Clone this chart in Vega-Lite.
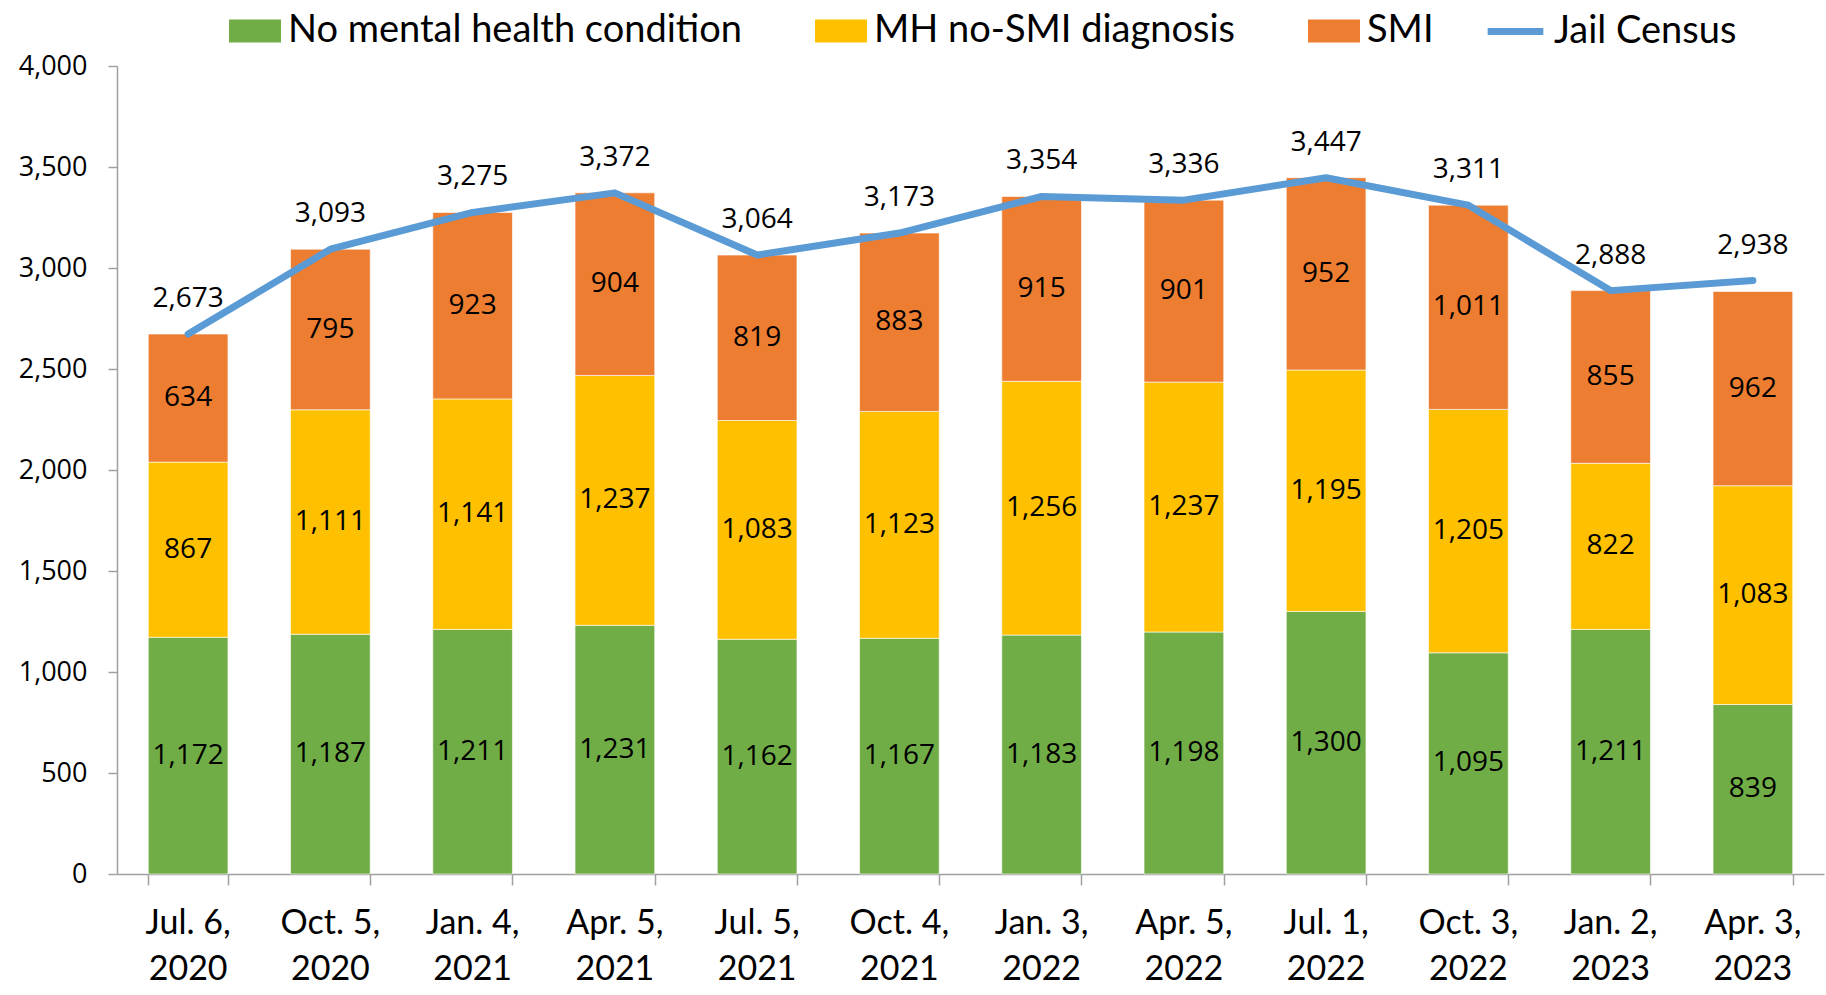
{
  "$schema": "https://vega.github.io/schema/vega-lite/v6.json",
  "autosize": {"type": "none"},
  "padding": {"left": 117, "top": 66, "right": 2, "bottom": 121},
  "width": 1707,
  "height": 808,
  "config": {
    "view": {"stroke": null},
    "axis": {"domainColor": "#A0A0A0", "tickColor": "#A0A0A0", "domainWidth": 1.5, "tickWidth": 1.5, "grid": false, "labelColor": "#000000"}
  },
  "data": {"values": [
    {"d": "Jul. 6,|2020", "cat": "No mental health condition", "v": 1172},
    {"d": "Oct. 5,|2020", "cat": "No mental health condition", "v": 1187},
    {"d": "Jan. 4,|2021", "cat": "No mental health condition", "v": 1211},
    {"d": "Apr. 5,|2021", "cat": "No mental health condition", "v": 1231},
    {"d": "Jul. 5,|2021", "cat": "No mental health condition", "v": 1162},
    {"d": "Oct. 4,|2021", "cat": "No mental health condition", "v": 1167},
    {"d": "Jan. 3,|2022", "cat": "No mental health condition", "v": 1183},
    {"d": "Apr. 5,|2022", "cat": "No mental health condition", "v": 1198},
    {"d": "Jul. 1,|2022", "cat": "No mental health condition", "v": 1300},
    {"d": "Oct. 3,|2022", "cat": "No mental health condition", "v": 1095},
    {"d": "Jan. 2,|2023", "cat": "No mental health condition", "v": 1211},
    {"d": "Apr. 3,|2023", "cat": "No mental health condition", "v": 839},
    {"d": "Jul. 6,|2020", "cat": "MH no-SMI diagnosis", "v": 867},
    {"d": "Oct. 5,|2020", "cat": "MH no-SMI diagnosis", "v": 1111},
    {"d": "Jan. 4,|2021", "cat": "MH no-SMI diagnosis", "v": 1141},
    {"d": "Apr. 5,|2021", "cat": "MH no-SMI diagnosis", "v": 1237},
    {"d": "Jul. 5,|2021", "cat": "MH no-SMI diagnosis", "v": 1083},
    {"d": "Oct. 4,|2021", "cat": "MH no-SMI diagnosis", "v": 1123},
    {"d": "Jan. 3,|2022", "cat": "MH no-SMI diagnosis", "v": 1256},
    {"d": "Apr. 5,|2022", "cat": "MH no-SMI diagnosis", "v": 1237},
    {"d": "Jul. 1,|2022", "cat": "MH no-SMI diagnosis", "v": 1195},
    {"d": "Oct. 3,|2022", "cat": "MH no-SMI diagnosis", "v": 1205},
    {"d": "Jan. 2,|2023", "cat": "MH no-SMI diagnosis", "v": 822},
    {"d": "Apr. 3,|2023", "cat": "MH no-SMI diagnosis", "v": 1083},
    {"d": "Jul. 6,|2020", "cat": "SMI", "v": 634},
    {"d": "Oct. 5,|2020", "cat": "SMI", "v": 795},
    {"d": "Jan. 4,|2021", "cat": "SMI", "v": 923},
    {"d": "Apr. 5,|2021", "cat": "SMI", "v": 904},
    {"d": "Jul. 5,|2021", "cat": "SMI", "v": 819},
    {"d": "Oct. 4,|2021", "cat": "SMI", "v": 883},
    {"d": "Jan. 3,|2022", "cat": "SMI", "v": 915},
    {"d": "Apr. 5,|2022", "cat": "SMI", "v": 901},
    {"d": "Jul. 1,|2022", "cat": "SMI", "v": 952},
    {"d": "Oct. 3,|2022", "cat": "SMI", "v": 1011},
    {"d": "Jan. 2,|2023", "cat": "SMI", "v": 855},
    {"d": "Apr. 3,|2023", "cat": "SMI", "v": 962},
    {"d": "Jul. 6,|2020", "cat": "Jail Census", "v": 2673},
    {"d": "Oct. 5,|2020", "cat": "Jail Census", "v": 3093},
    {"d": "Jan. 4,|2021", "cat": "Jail Census", "v": 3275},
    {"d": "Apr. 5,|2021", "cat": "Jail Census", "v": 3372},
    {"d": "Jul. 5,|2021", "cat": "Jail Census", "v": 3064},
    {"d": "Oct. 4,|2021", "cat": "Jail Census", "v": 3173},
    {"d": "Jan. 3,|2022", "cat": "Jail Census", "v": 3354},
    {"d": "Apr. 5,|2022", "cat": "Jail Census", "v": 3336},
    {"d": "Jul. 1,|2022", "cat": "Jail Census", "v": 3447},
    {"d": "Oct. 3,|2022", "cat": "Jail Census", "v": 3311},
    {"d": "Jan. 2,|2023", "cat": "Jail Census", "v": 2888},
    {"d": "Apr. 3,|2023", "cat": "Jail Census", "v": 2938}
  ]},
  "encoding": {
    "x": {
      "field": "d", "type": "nominal", "title": null,
      "sort": ["Jul. 6,|2020","Oct. 5,|2020","Jan. 4,|2021","Apr. 5,|2021","Jul. 5,|2021","Oct. 4,|2021","Jan. 3,|2022","Apr. 5,|2022","Jul. 1,|2022","Oct. 3,|2022","Jan. 2,|2023","Apr. 3,|2023"],
      "scale": {"paddingInner": 0.44, "paddingOuter": 0.22},
      "axis": {"labelAngle": 0, "tickBand": "extent", "tickSize": 11, "labels": false}
    }
  },
  "layer": [
    {
      "transform": [
        {"filter": "datum.cat !== 'Jail Census'"},
        {"calculate": "datum.cat === 'No mental health condition' ? 0 : datum.cat === 'MH no-SMI diagnosis' ? 1 : 2", "as": "ord"},
        {"stack": "v", "groupby": ["d"], "sort": [{"field": "ord"}], "as": ["v0", "v1"]}
      ],
      "mark": {"type": "bar", "stroke": "#FFFFFF", "strokeWidth": 1, "strokeOpacity": 0.6},
      "encoding": {
        "y": {"field": "v0", "type": "quantitative", "title": null, "scale": {"domain": [0, 4000], "nice": false},
          "axis": {"tickCount": 8, "format": ",.0f", "tickSize": 9, "labelPadding": 21, "labelFont": "Open Sans", "labelFontSize": 27}},
        "y2": {"field": "v1"},
        "color": {
          "field": "cat", "type": "nominal",
          "scale": {"domain": ["No mental health condition","MH no-SMI diagnosis","SMI"], "range": ["#70AD47","#FFC000","#ED7D31"]},
          "legend": {
            "orient": "none", "legendX": 112, "legendY": -61, "direction": "horizontal", "title": null,
            "labelFont": "Lato", "labelFontSize": 38, "labelColor": "#000000", "labelOffset": 7, "labelLimit": 1000,
            "symbolSize": 2704, "symbolType": "M-1,-0.44L1,-0.44L1,0.44L-1,0.44Z", "symbolStrokeWidth": 0, "columnPadding": 73
          }
        }
      }
    },
    {
      "transform": [
        {"filter": "datum.cat !== 'Jail Census'"},
        {"calculate": "datum.cat === 'No mental health condition' ? 0 : datum.cat === 'MH no-SMI diagnosis' ? 1 : 2", "as": "ord"},
        {"stack": "v", "groupby": ["d"], "sort": [{"field": "ord"}], "as": ["v0", "v1"]},
        {"calculate": "(datum.v0 + datum.v1) / 2", "as": "mid"}
      ],
      "mark": {"type": "text", "font": "Open Sans", "fontSize": 28, "color": "#000000", "baseline": "middle"},
      "encoding": {
        "y": {"field": "mid", "type": "quantitative"},
        "text": {"field": "v", "type": "quantitative", "format": ","}
      }
    },
    {
      "transform": [{"filter": "datum.cat === 'Jail Census'"}],
      "mark": {"type": "line", "strokeWidth": 7, "strokeCap": "round", "strokeJoin": "round"},
      "encoding": {
        "y": {"field": "v", "type": "quantitative"},
        "stroke": {
          "field": "cat", "type": "nominal",
          "scale": {"domain": ["Jail Census"], "range": ["#5B9BD5"]},
          "legend": {
            "orient": "none", "legendX": 1367, "legendY": -66, "direction": "horizontal", "title": null,
            "labelFont": "Lato", "labelFontSize": 38, "labelColor": "#000000", "labelOffset": 7, "labelLimit": 1000,
            "symbolType": "stroke", "symbolSize": 3100, "symbolStrokeWidth": 7
          }
        }
      }
    },
    {
      "transform": [{"filter": "datum.cat === 'Jail Census'"}],
      "mark": {"type": "text", "font": "Open Sans", "fontSize": 28, "color": "#000000", "baseline": "middle", "dy": -35},
      "encoding": {
        "y": {"field": "v", "type": "quantitative"},
        "text": {"field": "v", "type": "quantitative", "format": ","}
      }
    },
    {
      "transform": [{"filter": "datum.cat === 'Jail Census'"}],
      "mark": {"type": "text", "font": "Lato", "fontSize": 34, "color": "#000000", "baseline": "alphabetic", "align": "center", "lineBreak": "|", "lineHeight": 46, "dy": 60},
      "encoding": {
        "y": {"datum": 0, "type": "quantitative"},
        "text": {"field": "d", "type": "nominal"}
      }
    }
  ]
}
